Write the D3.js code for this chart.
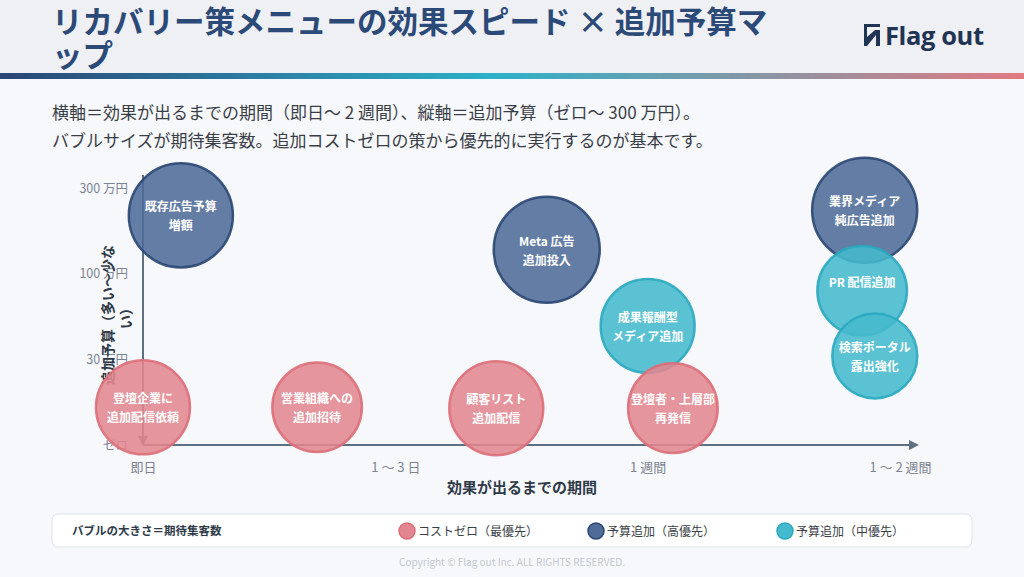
<!DOCTYPE html>
<html><head><meta charset="utf-8">
<script src="https://cdn.jsdelivr.net/npm/d3@7/dist/d3.min.js"></script>
<style>
html,body{margin:0;padding:0;background:#f7f8fb;}
svg{display:block;font-family:"Noto Sans CJK JP","Noto Sans",sans-serif;}
</style></head>
<body><svg id="c" width="1024" height="577"></svg>
<script>
// ---- data ----
const xTickLabels = ["即日", "1 〜 3 日", "1 週間", "1 〜 2 週間"];
const yTickLabels = ["ゼロ", "30 万円", "100 万円", "300 万円"];
const names = [
  ["既存広告予算", "増額"],
  ["登壇企業に", "追加配信依頼"],
  ["営業組織への", "追加招待"],
  ["顧客リスト", "追加配信"],
  ["Meta 広告", "追加投入"],
  ["成果報酬型", "メディア追加"],
  ["登壇者・上層部", "再発信"],
  ["業界メディア", "純広告追加"],
  ["PR 配信追加", ""],
  ["検索ポータル", "露出強化"]
];
const speed  = [0.15, 0.00, 0.69, 1.40, 1.60, 2.00, 2.10, 2.86, 2.85, 2.90];
const budget = [2.68, 0.44, 0.44, 0.43, 2.28, 1.39, 0.43, 2.74, 1.80, 1.04];
const visitors = [54, 44, 40, 44, 56, 44, 40, 55, 40, 36];
const group = ["high", "zero", "zero", "zero", "high", "mid", "zero", "high", "mid", "mid"];
const groupKeys = ["zero", "high", "mid"];
const groupLabels = ["コストゼロ（最優先）", "予算追加（高優先）", "予算追加（中優先）"];

const svg = d3.select("#c");
const W = 1024, H = 577;

// header
svg.append("rect").attr("x",0).attr("y",0).attr("width",W).attr("height",73).attr("fill","#eef0f4");
const defs = svg.append("defs");
const lg = defs.append("linearGradient").attr("id","hg");
lg.append("stop").attr("offset","0%").attr("stop-color","#2a4676");
lg.append("stop").attr("offset","48%").attr("stop-color","#2db1c8");
lg.append("stop").attr("offset","100%").attr("stop-color","#e27a82");
svg.append("rect").attr("x",0).attr("y",73).attr("width",W).attr("height",6).attr("fill","url(#hg)");

const title = svg.append("text").attr("fill","#2c4a78").attr("font-weight",700).attr("font-size",30.5);
title.append("tspan").attr("x",52).attr("y",33).text("リカバリー策メニューの効果スピード × 追加予算マ");
title.append("tspan").attr("x",52).attr("y",67).text("ップ");

// logo
const logo = svg.append("g").attr("transform","translate(864,24)");
logo.append("path").attr("d","M0,0 L16,0 L16,3 L3,3 L3,13 L11,6 L16,6 L16,22 L12,22 L12,11 L3,22 L0,22 Z").attr("fill","#1f3553");
svg.append("text").attr("x",885).attr("y",45).attr("font-family","'Open Sans','Noto Sans',sans-serif")
  .attr("font-weight",700).attr("font-size",25.5).attr("fill","#1f3553").attr("letter-spacing",-0.4).text("Flag out");

// description
const desc = svg.append("g").attr("fill","#3a3f47").attr("font-size",17);
desc.append("text").attr("x",52).attr("y",119).text("横軸＝効果が出るまでの期間（即日〜 2 週間）、縦軸＝追加予算（ゼロ〜 300 万円）。");
desc.append("text").attr("x",52).attr("y",147).text("バブルサイズが期待集客数。追加コストゼロの策から優先的に実行するのが基本です。");

// scales
const x = d3.scaleLinear().domain([0,3]).range([143,900]);
const y = d3.scaleLinear().domain([0,3]).range([445,188]);
const r = d3.scaleSqrt().domain([0,56]).range([0,53]);
const fill = d3.scaleOrdinal().domain(groupKeys).range(["#e3868f","#4f6b98","#45b9cd"]);
const stroke = d3.scaleOrdinal().domain(groupKeys).range(["#dc6e78","#2a4672","#2aa9c0"]);

// axes
const axisCol = "#5f6f82";
defs.append("marker").attr("id","arr").attr("viewBox","0 0 10 10").attr("refX",8).attr("refY",5)
  .attr("markerWidth",5).attr("markerHeight",5).attr("orient","auto")
  .append("path").attr("d","M0,0 L10,5 L0,10 Z").attr("fill",axisCol);
svg.append("line").attr("x1",x(0)).attr("y1",175).attr("x2",x(0)).attr("y2",y(0)-1)
  .attr("stroke",axisCol).attr("stroke-width",2).attr("marker-end","url(#arr)");
svg.append("line").attr("x1",x(0)).attr("y1",y(0)).attr("x2",917).attr("y2",y(0))
  .attr("stroke",axisCol).attr("stroke-width",2).attr("marker-end","url(#arr)");

const xAxis = svg.append("g").attr("transform",`translate(0,${y(0)})`)
  .call(d3.axisBottom(x).tickValues([0,1,2,3]).tickSize(0).tickPadding(18).tickFormat((d,i)=>xTickLabels[i]));
xAxis.select(".domain").remove();
xAxis.selectAll("text").attr("fill","#7c8591").attr("font-size",13).attr("font-family","'Noto Sans CJK JP',sans-serif");

const yAxis = svg.append("g").attr("transform",`translate(${x(0)},0)`)
  .call(d3.axisLeft(y).tickValues([0,1,2,3]).tickSize(0).tickPadding(15).tickFormat((d,i)=>yTickLabels[i]));
yAxis.select(".domain").remove();
yAxis.selectAll("text").attr("fill","#7c8591").attr("font-size",12.5).attr("font-family","'Noto Sans CJK JP',sans-serif");

// axis titles
svg.append("text").attr("x",522).attr("y",493).attr("text-anchor","middle").attr("font-weight",700)
  .attr("font-size",15).attr("fill","#2f3a48").text("効果が出るまでの期間");
svg.append("text").attr("transform","translate(113,315) rotate(-90)").attr("text-anchor","middle")
  .attr("font-weight",700).attr("font-size",14).attr("fill","#2f3a48").text("追加予算（多い〜少な");
svg.append("text").attr("transform","translate(131,315) rotate(-90)").attr("text-anchor","middle")
  .attr("font-weight",700).attr("font-size",14).attr("fill","#2f3a48").text("い）");

// bubbles
const data = names.map((n,i)=>({n, sx:speed[i], b:budget[i], v:visitors[i], g:group[i]}));
const bub = svg.append("g").selectAll("g").data(data).join("g")
  .attr("transform",d=>`translate(${x(d.sx)},${y(d.b)})`);
bub.append("circle").attr("r",d=>r(d.v)).attr("fill",d=>fill(d.g)).attr("fill-opacity",0.88)
  .attr("stroke",d=>stroke(d.g)).attr("stroke-width",2.5).attr("stroke-opacity",0.9);
bub.each(function(d){
  const t = d3.select(this).append("text").attr("text-anchor","middle").attr("fill","#ffffff")
    .attr("font-weight",700).attr("font-size",12);
  d.n.forEach((line,k)=>{
    t.append("tspan").attr("x",0).attr("y",-4 + k*19).text(line);
  });
});

// legend
svg.append("rect").attr("x",52).attr("y",514).attr("width",920).attr("height",33).attr("rx",6)
  .attr("fill","#ffffff").attr("stroke","#dde1e8");
svg.append("text").attr("x",72).attr("y",535).attr("font-weight",700).attr("font-size",11.5)
  .attr("fill","#2f3a48").text("バブルの大きさ＝期待集客数");
const lx = d3.scalePoint().domain(groupKeys).range([407,785]);
const li = svg.append("g").selectAll("g").data(groupKeys).join("g")
  .attr("transform",d=>`translate(${lx(d)},531)`);
li.append("circle").attr("r",8).attr("fill",d=>fill(d)).attr("stroke",d=>stroke(d)).attr("stroke-width",1.5);
li.append("text").attr("x",11).attr("y",4.5).attr("font-size",12).attr("fill","#3a3f47")
  .text((d,i)=>groupLabels[i]);

// copyright
svg.append("text").attr("x",512).attr("y",566).attr("text-anchor","middle").attr("font-size",10)
  .attr("fill","#c3c7ce").text("Copyright © Flag out Inc. ALL RIGHTS RESERVED.");
</script></body></html>
